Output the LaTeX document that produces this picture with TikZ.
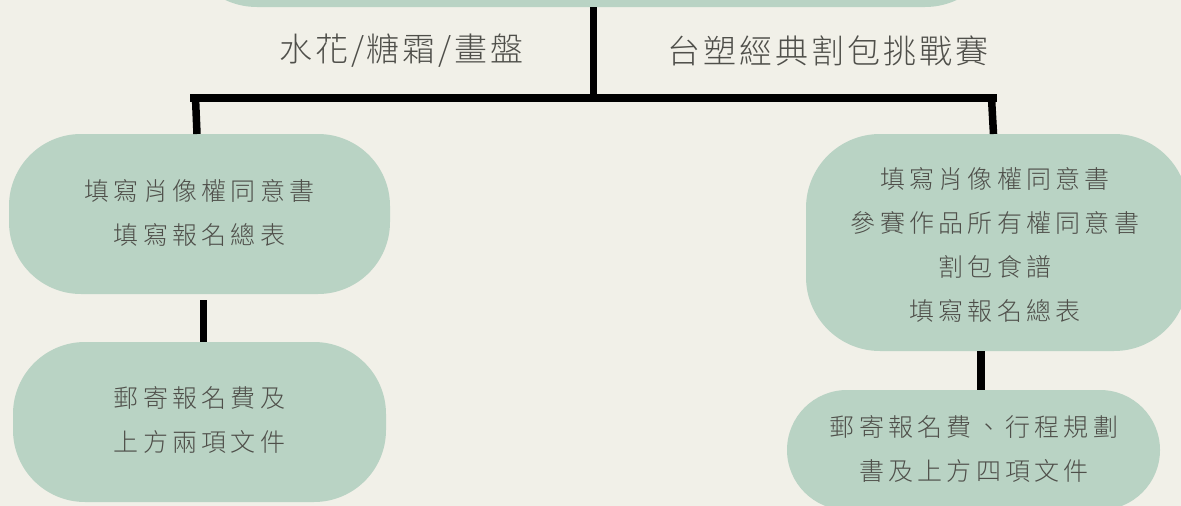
\documentclass[tikz,border=0pt]{standalone}
\usepackage{fontspec}
\usetikzlibrary{calc}
\newfontfamily\boxfont[LetterSpace=17]{Noto Sans CJK TC Light}
\newfontfamily\labfont[LetterSpace=9]{Noto Sans CJK TC Light}
\definecolor{pagebg}{HTML}{F1F0E8}
\definecolor{boxgreen}{HTML}{B9D3C4}
\definecolor{inktext}{HTML}{4F4F4A}
\tikzset{
  x=1pt,y=1pt,
  pill/.style={fill=boxgreen,draw=none,rectangle,rounded corners=#1,inner sep=0pt,outer sep=0pt,anchor=north west},
  steptext/.style={text=inktext,align=center,font=\boxfont\fontsize{25}{44}\selectfont,inner sep=0pt},
  headtext/.style={text=inktext,font=\labfont\fontsize{33}{36}\selectfont,inner sep=0pt},
  link/.style={draw=black,line width=7.5pt,line cap=butt},
}
\begin{document}
\begin{tikzpicture}
\useasboundingbox (0,0) rectangle (1181,-506);
\clip (0,0) rectangle (1181,-506);
\fill[pagebg] (0,0) rectangle (1181,-506);
% boxes
\node[pill=75pt,minimum width=818pt,minimum height=160pt] (top) at (182,153) {};
\node[pill=72pt,minimum width=381pt,minimum height=160pt] (la) at (9,-134) {};
\node[pill=72pt,minimum width=373pt,minimum height=160pt] (lb) at (13,-342) {};
\node[pill=74pt,minimum width=382pt,minimum height=217pt] (ra) at (806,-134) {};
\node[pill=60pt,minimum width=373pt,minimum height=120pt] (rb) at (787,-390) {};
% connectors
\coordinate (barL) at (190,-98);
\coordinate (barR) at (997,-98);
\coordinate (barM) at (593.5,-98);
\draw[link] (top.south -| barM) -- (barM);
\draw[line width=8pt,draw=black] (barL) -- (barR);
\draw[link] ($(barL)+(5.5,0)$) -- ($(la.north west)+(188,0)$);
\draw[link] ($(barR)+(-5.5,0)$) -- ($(ra.north west)+(187.5,0)$);
\draw[link] ($(la.south west)+(194.5,-6)$) -- ($(lb.north west)+(190.5,0)$);
\draw[link] ($(ra.south west)+(175,0)$) -- ($(rb.north west)+(194,0)$);
% texts
\node[headtext] (h1) at (401.5,-51) {水花/糖霜/畫盤};
\node[headtext] (h2) at (828,-51) {台塑經典割包挑戰賽};
\node[steptext] (t1) at (199.5,-213) {填寫肖像權同意書\\填寫報名總表};
\node[steptext] (t2) at (199.5,-420) {郵寄報名費及\\上方兩項文件};
\node[steptext] (t3) at (995,-245) {填寫肖像權同意書\\參賽作品所有權同意書\\割包食譜\\填寫報名總表};
\node[steptext] (t4) at (974,-449) {郵寄報名費、行程規劃\\書及上方四項文件};
\end{tikzpicture}
\end{document}
